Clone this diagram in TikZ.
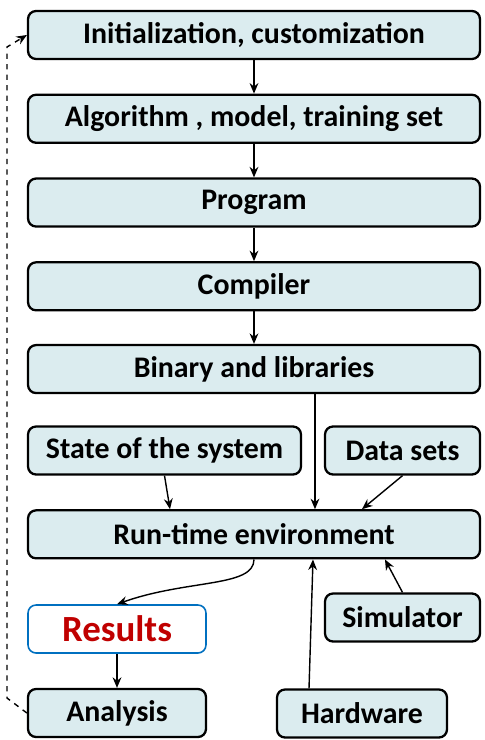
\documentclass[tikz,border=0pt]{standalone}
\usepackage{fontspec}
\setmainfont{Carlito}
\usepackage{xcolor}
\usepackage{tikz}
\usetikzlibrary{arrows.meta, positioning}
\definecolor{boxfill}{RGB}{219,236,239}
\definecolor{resline}{RGB}{0,112,192}
\definecolor{restext}{RGB}{192,0,0}

\tikzset{
  stage/.style={rectangle, rounded corners=0.16cm, draw=black, line width=1.3pt, fill=boxfill,
    minimum height=0.96cm, inner sep=0pt, font=\fontsize{17}{19}\selectfont\bfseries},
  wide/.style={stage, minimum width=9.04cm},
  flow/.style={-{Stealth[length=6pt,width=5pt]}, line width=0.8pt},
}

\begin{document}
\begin{tikzpicture}[x=0.02cm, y=-0.02cm, node distance=0.67cm]
    \useasboundingbox (0,0) rectangle (484,740);
    \node (init) [wide] at (254,35) {Initialization, customization};
    \node (algo) [wide, below=of init] {Algorithm , model, training set};
    \node (prog) [wide, below=of algo] {Program};
    \node (comp) [wide, below=of prog] {Compiler};
    \node (bin) [wide, below=0.65cm of comp] {Binary and libraries};
    \node (rte) [wide, below=2.3cm of bin] {Run-time environment};
    \node (state) [stage, minimum width=5.46cm] at (164.5,450.5) {State of the system};
    \node (data) [stage, minimum width=3.1cm] at (402.5,450.5) {Data sets};
    \node (res) [stage, minimum width=3.56cm, fill=white, draw=resline, line width=0.9pt,
      font=\fontsize{21}{23}\selectfont\bfseries, text=restext] at (117,629) {Results};
    \node (sim) [stage, minimum width=3.1cm] at (402.5,617.5) {Simulator};
    \node (ana) [stage, minimum width=3.56cm] at (117,713) {Analysis};
    \node (hw) [stage, minimum width=3.4cm] at (362,713.5) {Hardware};

    \draw[flow] (init) -- (algo);
    \draw[flow] (algo) -- (prog);
    \draw[flow] (prog) -- (comp);
    \draw[flow] (comp) -- (bin);
    \draw[flow] ([xshift=1.22cm]bin.south) -- ([xshift=1.22cm]rte.north);
    \draw[flow] (state.south) -- ([xshift=-1.68cm]rte.north);
    \draw[flow] (data.south) -- ([xshift=2.16cm]rte.north);
    \draw[flow] ([xshift=-1.06cm]hw.north) -- ([xshift=1.18cm]rte.south);
    \draw[flow] (sim.north) -- ([xshift=2.62cm]rte.south);
    \draw[flow] (rte.south) .. controls +(0,28) and +(70,-25) .. (res.north);
    \draw[flow] (res) -- (ana);
    % loop back
    \coordinate (backlo) at (7,698);
    \coordinate (backhi) at (7,47);
    \draw[flow, dashed] (ana.west) -- (backlo) -- (backhi) -- (init.west);
\end{tikzpicture}
\end{document}
